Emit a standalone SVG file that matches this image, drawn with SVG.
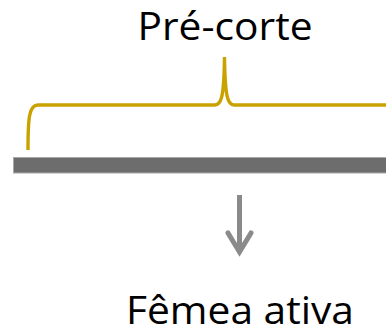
<svg xmlns="http://www.w3.org/2000/svg" width="386" height="334" viewBox="0 0 386 334">
<style>
.lbl{font-family:"Open Sans","Liberation Sans",sans-serif;font-size:38px;fill:#000}
.brace{fill:none;stroke:#c9a200;stroke-width:3.4}
.arr{fill:none;stroke:#8a8a8a;stroke-width:5}
</style>
<rect width="386" height="334" fill="#fff"/>
<g id="title"><text class="lbl" x="225" y="40" text-anchor="middle" textLength="175" lengthAdjust="spacingAndGlyphs">Pré-corte</text></g>
<g id="brace"><path class="brace" d="M28,150 C28,118 29,105 38,105 H215 C221,105 224,98 224.5,57 C225,98 228,105 234,105 H390"/></g>
<g id="bar"><rect x="13.5" y="157.5" width="380" height="15.5" fill="#6d6d6d" stroke="#a8a8a8" stroke-width="1"/></g>
<g id="connectors">
<line class="arr" x1="239.5" y1="195" x2="239.5" y2="251"/>
<polyline class="arr" points="228,233 239.5,252 251,233" stroke-linecap="round" stroke-linejoin="miter"/>
</g>
<g id="result"><text class="lbl" x="240" y="324" text-anchor="middle" textLength="228" lengthAdjust="spacingAndGlyphs">Fêmea ativa</text></g>
</svg>
